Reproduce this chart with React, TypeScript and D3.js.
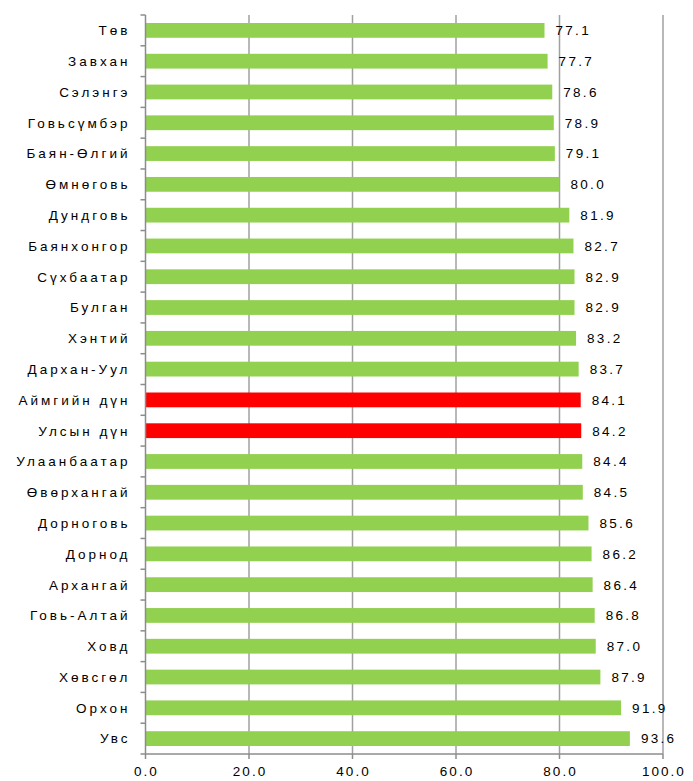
import React from "react";
import * as d3 from "d3";

const categories = [
  "Төв", "Завхан", "Сэлэнгэ", "Говьсүмбэр", "Баян-Өлгий", "Өмнөговь",
  "Дундговь", "Баянхонгор", "Сүхбаатар", "Булган", "Хэнтий", "Дархан-Уул",
  "Аймгийн дүн", "Улсын дүн", "Улаанбаатар", "Өвөрхангай", "Дорноговь", "Дорнод",
  "Архангай", "Говь-Алтай", "Ховд", "Хөвсгөл", "Орхон", "Увс",
];
const values = [
  77.1, 77.7, 78.6, 78.9, 79.1, 80.0, 81.9, 82.7, 82.9, 82.9, 83.2, 83.7,
  84.1, 84.2, 84.4, 84.5, 85.6, 86.2, 86.4, 86.8, 87.0, 87.9, 91.9, 93.6,
];
const highlighted = ["Аймгийн дүн", "Улсын дүн"];
const xTicks = [0, 20, 40, 60, 80, 100];

const W = 693, H = 781;
const left = 145.5, right = 663, top = 15, bottom = 754;
const FONT = "'Liberation Sans', Arial, sans-serif";

export default function App() {
  const x = d3.scaleLinear().domain([0, 100]).range([left, right]);
  const y = d3.scaleBand<string>().domain(categories).range([top, bottom]).paddingInner(0.52).paddingOuter(0.26);
  const boundaries = d3.range(categories.length + 1).map((i) => top + i * ((bottom - top) / categories.length));
  return (
    <svg width={W} height={H} style={{ position: "absolute", left: 0, top: 0, background: "#fff" }}>
      {xTicks.filter((t) => t > 0).map((t) => (
        <line key={"g" + t} x1={x(t)} x2={x(t)} y1={top} y2={bottom} stroke="#a0a0a0" strokeWidth={1.5} />
      ))}
      {categories.map((c, i) => (
        <rect key={c} x={x(0)} y={y(c)!} width={x(values[i]) - x(0)} height={y.bandwidth()}
          fill={highlighted.includes(c) ? "#ff0000" : "#92d050"} />
      ))}
      <line x1={left} x2={left} y1={top} y2={bottom} stroke="#8c8c8c" strokeWidth={1.5} />
      {boundaries.map((b, i) => (
        <line key={"t" + i} x1={left - 5} x2={left} y1={b} y2={b} stroke="#8c8c8c" strokeWidth={1.5} />
      ))}
      <line x1={left} x2={right} y1={bottom} y2={bottom} stroke="#8c8c8c" strokeWidth={1.5} />
      {xTicks.map((t) => (
        <g key={"x" + t}>
          <line x1={x(t)} x2={x(t)} y1={bottom} y2={bottom + 5} stroke="#8c8c8c" strokeWidth={1.5} />
          <text x={x(t) + 1} y={bottom + 22} textAnchor="middle" fontFamily={FONT} fontSize={13.5}
            letterSpacing={2} fill="#000">{t.toFixed(1)}</text>
        </g>
      ))}
      {categories.map((c, i) => (
        <g key={"l" + c}>
          <text x={left - 15} y={y(c)! + y.bandwidth() / 2} dy="0.36em" textAnchor="end" fontFamily={FONT}
            fontSize={13.5} letterSpacing={3} fill="#000">{c}</text>
          <text x={x(values[i]) + 11} y={y(c)! + y.bandwidth() / 2} dy="0.36em" fontFamily={FONT}
            fontSize={13.5} letterSpacing={2.3} fill="#000">{values[i].toFixed(1)}</text>
        </g>
      ))}
    </svg>
  );
}
